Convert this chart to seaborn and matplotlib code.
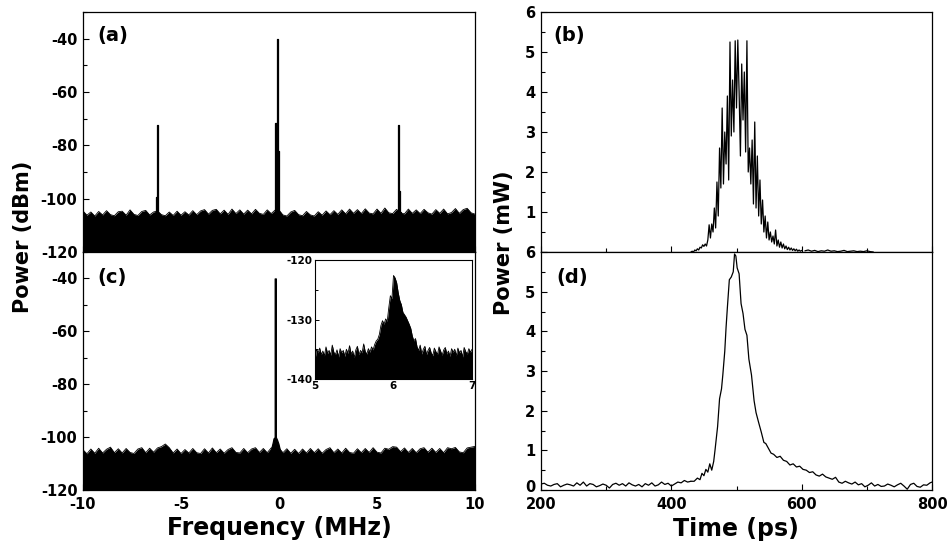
import numpy as np
import pandas as pd
import seaborn as sns
import matplotlib
matplotlib.use("Agg")
import matplotlib.pyplot as plt
import matplotlib.transforms as mtransforms
from matplotlib.ticker import MultipleLocator

# ---------------- data ----------------
# RF spectrum noise-floor top envelope, sampled every 0.2 MHz from -10 to 10 MHz
spec_freq = np.linspace(-10, 10, 101)
a_floor = [-104.6, -106.2, -105.0, -106.5, -104.8, -106.1, -104.5, -106.0, -106.4, -104.9,
           -104.7, -106.2, -104.2, -105.9, -106.3, -104.8, -104.4, -106.1, -105.0, -104.6,
           -106.0, -106.4, -105.0, -106.3, -104.7, -106.2, -104.9, -106.1, -104.5, -106.0,
           -104.6, -104.1, -105.8, -104.4, -104.0, -105.7, -104.3, -105.9, -103.9, -105.6,
           -104.2, -105.8, -104.3, -105.7, -104.0, -105.5, -105.9, -104.2, -105.6, -104.3,
           -104.3, -106.1, -106.5, -105.0, -104.4, -106.0, -106.4, -104.8, -106.1, -106.5,
           -104.9, -106.2, -104.6, -106.0, -104.5, -105.9, -104.2, -105.7, -103.9, -105.5,
           -104.1,
           -105.6, -103.8, -105.4, -105.7, -103.9, -105.5, -103.5, -105.3, -105.6, -104.0,
           -105.4, -105.7, -103.9, -105.5, -104.2, -105.6, -104.0, -105.3, -105.8, -104.1,
           -105.5, -103.9, -105.7, -105.2, -103.7, -105.5, -104.1, -103.6, -105.3, -105.8]
c_floor = [-104.8, -106.3, -104.5, -106.1, -104.2, -106.0, -104.6, -103.8, -105.9, -104.4,
           -106.0, -104.3, -105.8, -106.2, -104.5, -104.0, -105.9, -104.2, -105.7, -104.1,
           -103.6, -102.6, -104.0, -106.0, -104.5, -106.2, -104.7, -106.0, -104.3, -105.9,
           -106.2, -104.4, -106.0, -104.1, -105.9, -104.5, -106.1, -104.7, -104.0, -105.8,
           -106.0, -104.3, -105.9, -104.5, -104.0, -105.8, -104.3, -105.9, -104.1, -103.8,
           -104.1, -105.9, -104.4, -106.1, -104.6, -106.2, -104.5, -106.0, -104.3, -105.9,
           -104.4, -106.1, -104.7, -104.0, -105.9, -104.5, -106.0, -104.2, -105.8, -106.1,
           -104.4,
           -105.9, -104.3, -105.8, -104.0, -105.7, -106.0, -104.2, -104.6, -103.6, -103.8,
           -105.5, -104.1, -105.8, -104.3, -105.9, -104.4, -104.0, -105.7, -104.2, -105.8,
           -104.3, -105.9, -104.0, -104.4, -103.9, -105.6, -105.9, -104.1, -103.8, -103.5]

# spectral lines (outline of each line: frequency / level pairs)
a_line_left_f = [-6.32, -6.27, -6.27, -6.22, -6.22, -6.17, -6.17, -6.12]
a_line_left_p = [-105.5, -105.5, -99.5, -99.5, -72.5, -72.5, -105.5, -105.5]
a_line_center_f = [-0.24, -0.18, -0.18, -0.11, -0.11, -0.06, -0.06, 0.01, 0.01, 0.07]
a_line_center_p = [-105.0, -105.0, -71.5, -71.5, -40.0, -40.0, -82.0, -82.0, -105.0, -105.0]
a_line_right_f = [6.01, 6.06, 6.06, 6.11, 6.11, 6.16, 6.16, 6.21]
a_line_right_p = [-105.0, -105.0, -72.5, -72.5, -97.0, -97.0, -105.0, -105.0]
c_line_f = [-0.42, -0.32, -0.28, -0.22, -0.22, -0.16, -0.16, -0.10, -0.03, 0.05]
c_line_p = [-105.0, -102.0, -100.5, -100.0, -40.0, -40.0, -100.0, -101.0, -102.5, -105.0]

# inset: zoom on the 6 MHz region, sampled every 0.02 MHz
inset_freq = np.linspace(5, 7, 101)
inset_level = [-136.8, -135.0, -135.6, -134.8, -135.9, -135.3, -136.1, -134.6, -135.7, -135.2,
               -136.0, -134.3, -135.5, -135.9, -135.1, -136.3, -134.9, -135.6, -135.2, -136.2,
               -135.0, -135.7, -134.4, -135.8, -135.3, -136.4, -135.1, -134.5, -135.9, -135.2,
               -135.6, -134.1, -135.4, -135.8, -134.9, -135.5, -134.6, -135.1, -134.2, -133.6,
               -133.3, -132.5, -131.0, -130.2, -130.8, -129.9, -130.3, -128.0, -126.0, -126.5,
               -122.6,
               -123.0, -123.8, -125.5, -126.8, -127.5, -128.8, -129.2, -129.6, -130.2, -130.8,
               -131.5, -132.8, -133.6, -133.2, -134.6,
               -135.2, -134.3, -135.8, -135.0, -134.5, -135.9, -135.2, -134.7, -135.6, -136.1,
               -134.8, -135.4, -135.9, -134.6, -135.3, -136.0, -135.1, -134.7, -135.8, -135.3,
               -136.2, -134.9, -135.5, -135.0, -136.1, -134.8, -135.6, -135.2, -136.3, -134.7,
               -135.4, -135.8, -134.9, -135.5, -135.0]

# (b) noisy pulse, 2 ps samples 430-600 ps then 5 ps samples 605-710 ps
b_time_1 = np.arange(430, 601, 2)
b_power_1 = [0.0, 0.02, 0.0, 0.05, 0.03, 0.08, 0.05, 0.12, 0.1, 0.18,
             0.14, 0.2, 0.15, 0.3, 0.68, 0.35, 0.7, 0.5, 1.1, 0.6,
             1.75, 0.9, 2.6, 1.6, 3.6, 1.7, 3.0, 2.2, 3.9, 1.8,
             5.25, 2.9, 4.3, 3.0, 5.28, 3.6, 5.3, 4.0, 2.4, 4.7,
             3.3, 4.5, 2.5, 5.28, 2.0, 2.6, 1.7, 2.8, 1.2, 3.25,
             1.1, 2.4, 0.9, 1.8, 0.7, 1.3, 0.5, 0.9, 0.35, 0.75,
             0.3, 0.5, 0.25, 0.4, 0.2, 0.55, 0.15, 0.3, 0.12, 0.25,
             0.1, 0.2, 0.08, 0.15, 0.06, 0.12, 0.05, 0.1, 0.04, 0.08,
             0.03, 0.07, 0.02, 0.05, 0.02, 0.04]
b_time_2 = np.arange(605, 711, 5)
b_power_2 = [0.03, 0.05, 0.02, 0.04, 0.01, 0.03, 0.02, 0.05, 0.02, 0.03, 0.01,
             0.02, 0.04, 0.01, 0.02, 0.03, 0.01, 0.02, 0.01, 0.03, 0.01, 0.0]

# (d) compressed pulse
d_time_base = np.arange(200, 431, 5)
d_power_base = [0.15, 0.17, 0.12, 0.10, 0.14, 0.16, 0.08, 0.12, 0.15, 0.13,
                0.10, 0.18, 0.12, 0.20, 0.10, 0.16, 0.14, 0.08, 0.11, 0.15,
                0.12, 0.05, 0.14, 0.17, 0.12, 0.16, 0.10, 0.18, 0.13, 0.10,
                0.14, 0.08, 0.16, 0.12, 0.18, 0.10, 0.13, 0.20, 0.14, 0.17,
                0.10, 0.15, 0.20, 0.18, 0.24, 0.20, 0.22]
d_time_pulse = [435, 440, 444, 447, 450, 453, 456, 459, 462, 465,
                467, 469, 471, 474, 477, 479, 482, 484, 486, 489,
                492, 495, 497, 499, 501, 504, 507, 510, 513, 516,
                519, 523, 527, 530, 534, 538, 542, 545, 549, 553,
                557, 562, 567, 572, 577, 582, 587, 592, 597, 602,
                607, 612, 617, 622, 627, 632, 637, 642, 647, 652,
                657, 662, 667, 672, 677, 682, 687, 692, 697, 702,
                707, 712, 717, 722, 727, 732, 737, 742, 747, 752,
                757, 762, 767, 772, 777, 782, 787, 792, 797, 800]
d_power_pulse = [0.22, 0.30, 0.26, 0.42, 0.36, 0.52, 0.45, 0.66, 0.50, 0.72,
                 1.0, 1.3, 1.6, 2.3, 2.55, 2.9, 3.5, 4.1, 4.6, 5.3,
                 5.37, 5.5, 5.95, 5.9, 5.6, 5.45, 4.7, 4.45, 4.05, 3.9,
                 3.3, 2.9, 2.25, 1.95, 1.7, 1.46, 1.2, 1.17, 1.05, 0.93,
                 0.9, 0.82, 0.85, 0.75, 0.72, 0.63, 0.66, 0.58, 0.6, 0.52,
                 0.5, 0.44, 0.46, 0.38, 0.35, 0.4, 0.33, 0.3, 0.27, 0.32,
                 0.2, 0.17, 0.22, 0.18, 0.15, 0.2, 0.13, 0.16, 0.08, 0.12,
                 0.18, 0.1, 0.14, 0.09, 0.1, 0.15, 0.12, 0.08, 0.13, 0.17,
                 0.1, 0.02, 0.14, 0.17, 0.09, 0.07, 0.13, 0.12, 0.18, 0.2]

panel_labels = ["(a)", "(b)", "(c)", "(d)"]

# ---------------- style ----------------
sns.set_theme(style="ticks")
plt.rcParams["font.family"] = ["DejaVu Sans"]
plt.rcParams["font.weight"] = "bold"
plt.rcParams["axes.unicode_minus"] = False
plt.rcParams["axes.linewidth"] = 0.9
plt.rcParams["axes.edgecolor"] = "black"
plt.rcParams["text.color"] = "black"
plt.rcParams["xtick.color"] = "black"
plt.rcParams["ytick.color"] = "black"
plt.rcParams["xtick.labelcolor"] = "black"
plt.rcParams["ytick.labelcolor"] = "black"

fig = plt.figure(figsize=(9.52, 5.49), dpi=100)
L0, LW = 83 / 952, 392 / 952
R0, RW = 541 / 952, 391 / 952
TOP_B, TOP_H = 1 - 252 / 549, 240 / 549
BOT_B, BOT_H = 1 - 490 / 549, 238 / 549

ax_a = fig.add_axes([L0, TOP_B, LW, TOP_H])
ax_c = fig.add_axes([L0, BOT_B, LW, BOT_H])
ax_b = fig.add_axes([R0, TOP_B, RW, TOP_H])
ax_d = fig.add_axes([R0, BOT_B, RW, BOT_H])
ax_in = fig.add_axes([315 / 952, 1 - 379 / 549, 157 / 952, 119 / 549])

K = "black"


def spectrum(ax, floor, lines):
    ax.fill_between(spec_freq, -120, floor, color=K, lw=0)
    sns.lineplot(x=spec_freq, y=floor, ax=ax, color=K, lw=0.6, sort=False, estimator=None)
    for f, p in lines:
        ax.fill_between(f, -120, p, color=K, lw=0.9, edgecolor=K)
    ax.set_xlim(-10, 10)
    ax.set_ylim(-120, -30)
    ax.set_yticks([-120, -100, -80, -60, -40])
    ax.yaxis.set_minor_locator(MultipleLocator(10))
    ax.set_xticks([-10, -5, 0, 5, 10])
    ax.xaxis.set_minor_locator(MultipleLocator(2.5))


spectrum(ax_a, a_floor, [(a_line_left_f, a_line_left_p),
                         (a_line_center_f, a_line_center_p),
                         (a_line_right_f, a_line_right_p)])
spectrum(ax_c, c_floor, [(c_line_f, c_line_p)])
ax_a.tick_params(axis="x", labelbottom=False)
ax_a.set_yticklabels(["-120", "-100", "-80", "-60", "-40"])
ax_c.set_yticklabels(["-120", "-100", "-80", "-60", "-40"])
ax_c.set_xticklabels(["-10", "-5", "0", "5", "10"])

# inset
ax_in.fill_between(inset_freq, -140, inset_level, color=K, lw=0)
sns.lineplot(x=inset_freq, y=inset_level, ax=ax_in, color=K, lw=0.6, sort=False, estimator=None)
ax_in.set_xlim(5, 7)
ax_in.set_ylim(-140, -120)
ax_in.set_xticks([5, 6, 7])
ax_in.set_yticks([-140, -130, -120])
ax_in.set_yticklabels(["-140", "-130", "-120"])
ax_in.yaxis.set_minor_locator(MultipleLocator(5))
ax_in.xaxis.set_minor_locator(MultipleLocator(0.5))
ax_in.tick_params(which="both", direction="in", labelsize=7.5, pad=1.5, width=0.7)
ax_in.tick_params(which="major", length=3)
ax_in.tick_params(which="minor", length=2)
ax_in.set_xlabel("")
ax_in.set_ylabel("")
for s in ax_in.spines.values():
    s.set_linewidth(0.8)

# time traces
for t, p in [(b_time_1, b_power_1), (b_time_2, b_power_2)]:
    sns.lineplot(x=t, y=p, ax=ax_b, color=K, lw=0.9, sort=False, estimator=None)
sns.lineplot(x=d_time_base, y=d_power_base, ax=ax_d, color=K, lw=0.9, sort=False, estimator=None)
sns.lineplot(x=np.concatenate([d_time_base[-1:], d_time_pulse]),
             y=[d_power_base[-1]] + d_power_pulse,
             ax=ax_d, color=K, lw=0.9, sort=False, estimator=None)
for ax in (ax_b, ax_d):
    ax.set_xlim(200, 800)
    ax.set_ylim(0, 6)
    ax.set_xticks([200, 400, 600, 800])
    ax.xaxis.set_minor_locator(MultipleLocator(100))
    ax.set_yticks([0, 1, 2, 3, 4, 5, 6])
    ax.yaxis.set_minor_locator(MultipleLocator(0.5))
ax_b.tick_params(axis="x", labelbottom=False)
ax_b.set_yticklabels(["", "1", "2", "3", "4", "5", "6"])
ax_d.set_yticklabels(["0", "1", "2", "3", "4", "5", "6"])
ax_d.set_xticklabels(["200", "400", "600", "800"])

for ax in (ax_a, ax_b, ax_c, ax_d):
    ax.set_xlabel("")
    ax.set_ylabel("")
    ax.tick_params(which="both", direction="in", width=0.8, labelsize=10.5,
                   top=False, right=False)
    ax.tick_params(which="major", length=4.5)
    ax.tick_params(which="minor", length=3)
    ax.tick_params(axis="y", pad=4)
    ax.tick_params(axis="x", pad=5)
    for lab in ax.get_xticklabels() + ax.get_yticklabels():
        lab.set_fontweight("bold")
for lab in ax_in.get_xticklabels() + ax_in.get_yticklabels():
    lab.set_fontweight("bold")

# lift the "0" of panel (d) slightly so it clears the "200" below it
zero_lab = ax_d.get_yticklabels()[0]
zero_lab.set_transform(zero_lab.get_transform() +
                       mtransforms.ScaledTranslation(0, 4 / 100, fig.dpi_scale_trans))

# panel letters
for lbl, (x, y) in zip(panel_labels, [(97, 36), (553, 36), (97, 277), (556, 277)]):
    fig.text(x / 952, 1 - y / 549, lbl, fontsize=14, fontweight="bold",
             ha="left", va="center")

# axis titles
fig.text(23 / 952, 1 - 237 / 549, "Power (dBm)", rotation=90, fontsize=15,
         fontweight="bold", ha="center", va="center")
fig.text(504 / 952, 1 - 243 / 549, "Power (mW)", rotation=90, fontsize=15,
         fontweight="bold", ha="center", va="center")
fig.text(279 / 952, 1 - 535 / 549, "Frequency (MHz)", fontsize=17,
         fontweight="bold", ha="center", va="baseline")
fig.text(736 / 952, 1 - 536 / 549, "Time (ps)", fontsize=17,
         fontweight="bold", ha="center", va="baseline")

fig.savefig("out.png", dpi=100, facecolor="white")
